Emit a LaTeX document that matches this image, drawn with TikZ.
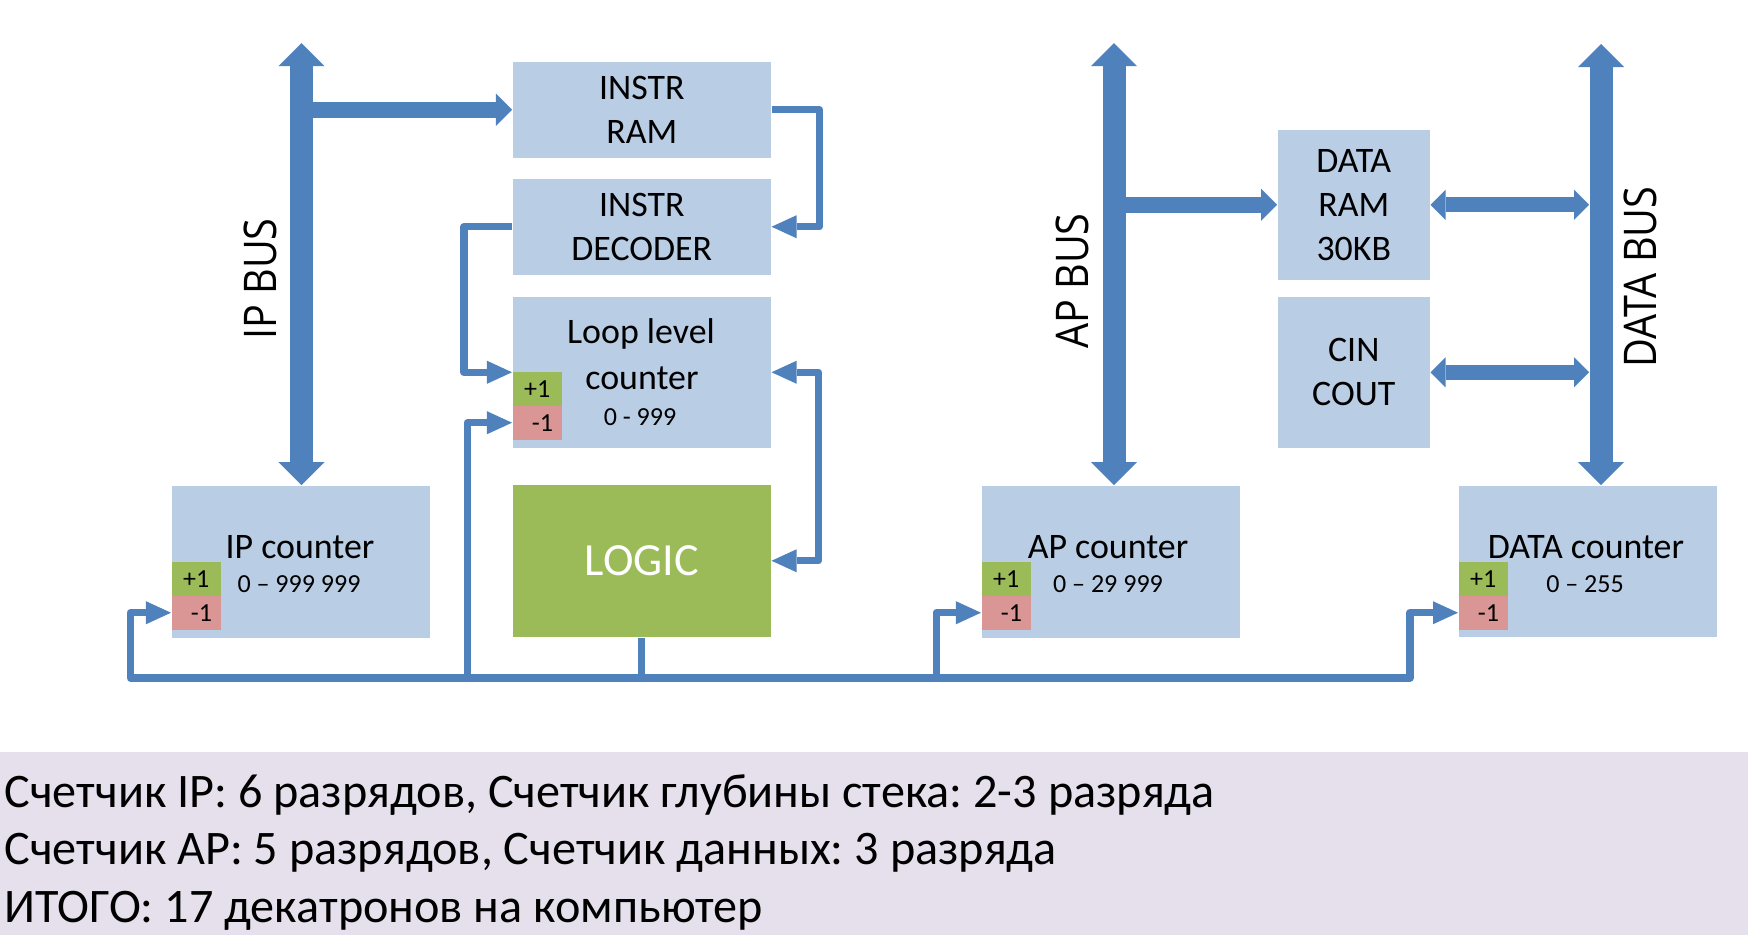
\documentclass[tikz,border=0pt]{standalone}
\usepackage{fontspec}
\usepackage{graphicx}
\setmainfont{Carlito}
\newfontfamily\busfont{Open Sans}
\usetikzlibrary{arrows.meta}
\frenchspacing
\definecolor{arrowblue}{RGB}{79,129,189}
\definecolor{boxblue}{RGB}{185,205,229}
\definecolor{logicgreen}{RGB}{155,187,89}
\definecolor{minuspink}{RGB}{217,150,148}
\definecolor{bandlilac}{RGB}{229,224,236}
\tikzset{
  ctip/.tip={Triangle[length=0.25cm,width=0.23cm,line width=0pt]},
  btip/.tip={Triangle[length=0.23cm,width=0.46cm,line width=0pt]},
  atip/.tip={Triangle[length=0.16cm,width=0.32cm,line width=0pt]},
  dtip/.tip={Triangle[length=0.15cm,width=0.30cm,line width=0pt]},
  box/.style={fill=boxblue, inner sep=0pt, anchor=north west, align=center,
    font=\fontsize{10.2}{12.5}\selectfont},
  pmbox/.style={inner sep=0pt, anchor=north west, minimum width=0.49cm,
    minimum height=0.34cm, font=\fontsize{7.4}{9}\selectfont},
  lbl/.style={inner sep=0pt, anchor=base, font=\fontsize{10.2}{12.5}\selectfont},
  small/.style={inner sep=0pt, anchor=base, font=\fontsize{7.4}{9}\selectfont},
  buslabel/.style={inner sep=0pt, rotate=90, font=\busfont\fontsize{12.8}{14}\selectfont},
  bottomtext/.style={inner sep=0pt, anchor=base west, font=\fontsize{13.7}{16}\selectfont},
  conn/.style={draw=arrowblue, line width=0.073cm, line join=round, -ctip},
  connboth/.style={draw=arrowblue, line width=0.073cm, line join=round, ctip-ctip},
  wire/.style={draw=arrowblue, line width=0.073cm},
  bus/.style={draw=arrowblue, line width=0.23cm, btip-btip},
  busarm/.style={draw=arrowblue, line width=0.16cm, -atip},
  busarmboth/.style={draw=arrowblue, line width=0.15cm, dtip-dtip}
}
\begin{document}
\begin{tikzpicture}[x=0.01cm,y=-0.01cm]
\useasboundingbox (0,0) rectangle (1748,935);
\fill[white] (0,0) rectangle (1748,935);

% bottom band
\fill[bandlilac] (0,752) rectangle (1748,935);
\node[bottomtext] (t1) at (4,807) {Счетчик IP: 6 разрядов, Счетчик глубины стека: 2-3 разряда};
\node[bottomtext] (t2) at (4,864.5) {Счетчик AP: 5 разрядов, Счетчик данных: 3 разряда};
\node[bottomtext] (t3) at (4,922) {ИТОГО: 17 декатронов на компьютер};

% boxes
\node[box, minimum width=2.58cm, minimum height=0.96cm] (iram) at (512,61) {INSTR\\RAM};
\node[box, minimum width=2.58cm, minimum height=0.96cm] (idec) at (512,178) {INSTR\\DECODER};
\node[box, minimum width=2.58cm, minimum height=1.51cm] (loop) at (512,296) {};
\node[box, minimum width=2.58cm, minimum height=1.52cm, fill=logicgreen, text=white,
      font=\fontsize{13.1}{15}\selectfont] (logic) at (512,484) {LOGIC};
\node[box, minimum width=2.58cm, minimum height=1.52cm] (ipc) at (171,485) {};
\node[box, minimum width=2.58cm, minimum height=1.52cm] (apc) at (981,485) {};
\node[box, minimum width=2.58cm, minimum height=1.51cm] (dc) at (1458,485) {};
\node[box, minimum width=1.52cm, minimum height=1.50cm] (dram) at (1277,129) {DATA\\RAM\\30KB};
\node[box, minimum width=1.52cm, minimum height=1.51cm] (cin) at (1277,296) {CIN\\COUT};

% +1 / -1 boxes
\node[pmbox, fill=logicgreen] (loopp) at (512,371) {+1};
\node[pmbox, fill=minuspink] (loopm) at (512,405) {\hspace{3pt}-1};
\node[pmbox, fill=logicgreen] (ipcp) at (171,561) {+1};
\node[pmbox, fill=minuspink] (ipcm) at (171,595) {\hspace{3pt}-1};
\node[pmbox, fill=logicgreen] (apcp) at (981,561) {+1};
\node[pmbox, fill=minuspink] (apcm) at (981,595) {\hspace{3pt}-1};
\node[pmbox, fill=logicgreen] (dcp) at (1458,561) {+1};
\node[pmbox, fill=minuspink] (dcm) at (1458,595) {\hspace{3pt}-1};

% counter labels
\node[lbl] (looplab1) at (641,343) {Loop level};
\node[lbl] (looplab2) at (642,389) {counter};
\node[small] (looprng) at (640,425) {0 - 999};
\node[lbl] (ipclab) at (300,558) {IP counter};
\node[small] (ipcrng) at (299,592.7) {0 – 999 999};
\node[lbl] (apclab) at (1108,558) {AP counter};
\node[small] (apcrng) at (1108,592.7) {0 – 29 999};
\node[lbl] (dclab) at (1586,558) {DATA counter};
\node[small] (dcrng) at (1585,592.7) {0 – 255};

% bus labels
\node[buslabel] (iplab) at (260,279) {\scalebox{0.88}[1]{IP BUS}};
\node[buslabel] (aplab) at (1072,281) {\scalebox{0.88}[1]{AP BUS}};
\node[buslabel] (dlab) at (1640,277) {\scalebox{0.88}[1]{DATA BUS}};

% buses
\coordinate (iptop) at (301.5,43);
\coordinate (aptop) at (1114,43);
\coordinate (dtop) at (1601,44);
\coordinate (dedge) at (1589,44);
\draw[bus] (iptop) -- (iptop |- ipc.north);
\draw[bus] (aptop) -- (aptop |- apc.north);
\draw[bus] (dtop) -- (dtop |- dc.north);
\draw[busarm] (iptop |- iram.west) -- (iram.west);
\draw[busarm] (aptop |- dram.west) -- (dram.west);
\draw[busarmboth] (dram.east) -- (dram.east -| dedge);
\draw[busarmboth] (cin.east) -- (cin.east -| dedge);

% thin connectors
\draw[conn] (iram.east) -- ++(48,0) |- (idec.east);
\draw[conn] (idec.west) -- ++(-48,0) |- (loop.west);
\draw[connboth] (loop.east) -- ++(47,0) |- (logic.east);

\coordinate (bl) at (130.5,678);
\coordinate (br) at (1410,678);
\coordinate (jl) at (467.5,678);
\coordinate (ja) at (936.4,678);
\draw[connboth] (ipcm.west) -| (bl) -- (br) |- (dcm.west);
\draw[conn] (jl) |- (loopm.west);
\draw[conn] (ja) |- (apcm.west);
\draw[wire] (logic.south) -- (logic.south |- bl);
\end{tikzpicture}
\end{document}
